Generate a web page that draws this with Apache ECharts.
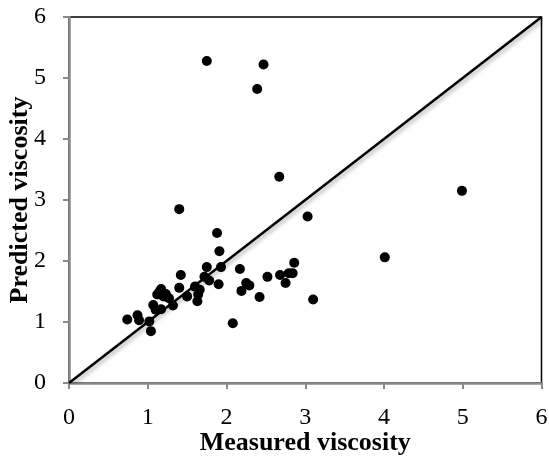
<!DOCTYPE html>
<html>
<head>
<meta charset="utf-8">
<script src="https://cdn.jsdelivr.net/npm/echarts@6/dist/echarts.min.js"></script>
<style>
  html, body { margin: 0; padding: 0; background: #fff; }
  #chart { width: 549px; height: 459px; }
</style>
</head>
<body>
<div id="chart"></div>
<script>
// Measured (x) vs predicted (y) viscosity
const measured = [0.74, 0.87, 0.89, 1.02, 1.04, 1.07, 1.10, 1.17, 1.12, 1.17, 1.23, 1.27, 1.32, 1.40, 1.42, 1.40,
  1.50, 1.60, 1.66, 1.64, 1.63, 1.72, 1.75, 1.78, 1.75, 1.88, 1.91, 1.93, 1.90, 2.08, 2.17, 2.19, 2.25, 2.29,
  2.39, 2.42, 2.47, 2.52, 2.67, 2.68, 2.75, 2.79, 2.84, 2.86, 3.03, 3.10, 4.01, 4.99, 1.20, 1.15];
const predicted = [1.04, 1.11, 1.03, 1.01, 0.85, 1.28, 1.20, 1.21, 1.45, 1.54, 1.46, 1.39, 1.27, 1.56, 1.77, 2.85,
  1.42, 1.58, 1.53, 1.45, 1.34, 1.74, 1.90, 1.68, 5.28, 2.46, 2.16, 1.90, 1.62, 0.98, 1.87, 1.51, 1.64, 1.60,
  4.82, 1.41, 5.22, 1.74, 3.38, 1.77, 1.64, 1.80, 1.80, 1.97, 2.73, 1.37, 2.06, 3.15, 1.42, 1.50];
const identityLine = [[0, 0], [6, 6]];
const tickValues = [0, 1, 2, 3, 4, 5, 6];

const points = measured.map((m, i) => [m, predicted[i]]);
const serif = '"Liberation Serif", "Times New Roman", serif';

const chart = echarts.init(document.getElementById('chart'));
chart.setOption({
  animation: false,
  backgroundColor: '#ffffff',
  grid: {
    left: 69, right: 7.5, top: 17, bottom: 76,
    containLabel: false, outerBoundsMode: 'none',
    show: true, borderColor: '#000', borderWidth: 1.5, backgroundColor: 'transparent'
  },
  xAxis: {
    type: 'value', min: tickValues[0], max: tickValues[tickValues.length - 1], interval: 1,
    name: 'Measured viscosity', nameLocation: 'middle', nameGap: 47, nameMoveOverlap: false,
    nameTextStyle: { fontFamily: serif, fontSize: 26, fontWeight: 'bold', color: '#000' },
    axisLine: { show: true, lineStyle: { color: '#8a8a8a', width: 2.5 } },
    axisTick: { show: true, length: 6, lineStyle: { color: '#8a8a8a', width: 2 } },
    axisLabel: { fontFamily: serif, fontSize: 24, color: '#000', margin: 23 },
    splitLine: { show: false }
  },
  yAxis: {
    type: 'value', min: tickValues[0], max: tickValues[tickValues.length - 1], interval: 1,
    name: 'Predicted viscosity', nameLocation: 'middle', nameGap: 36, nameMoveOverlap: false,
    nameTextStyle: { fontFamily: serif, fontSize: 26, fontWeight: 'bold', color: '#000' },
    axisLine: { show: true, lineStyle: { color: '#8a8a8a', width: 2.5 } },
    axisTick: { show: true, length: 6, lineStyle: { color: '#8a8a8a', width: 2 } },
    axisLabel: { fontFamily: serif, fontSize: 24, color: '#000', margin: 23 },
    splitLine: { show: false }
  },
  series: [
    {
      type: 'line', data: identityLine, symbol: 'none', z: 2,
      lineStyle: { color: '#000', width: 2.5, shadowColor: 'rgba(0,0,0,0.35)', shadowBlur: 4, shadowOffsetX: 2, shadowOffsetY: 2 }
    },
    {
      type: 'scatter', data: points, symbol: 'circle', symbolSize: 10, z: 3,
      itemStyle: { color: '#000', opacity: 1 }
    }
  ]
});
</script>
</body>
</html>
